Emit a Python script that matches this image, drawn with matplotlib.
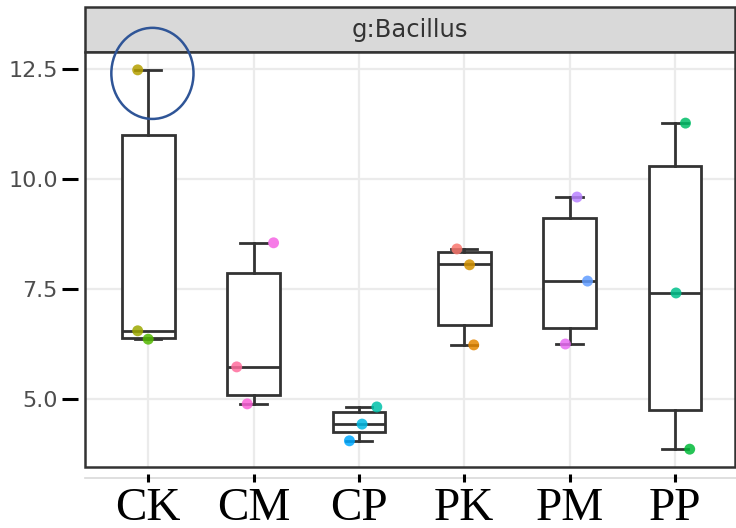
import matplotlib
matplotlib.use("Agg")
import matplotlib.pyplot as plt
from matplotlib.patches import Rectangle, Ellipse
from matplotlib.lines import Line2D

groups = ["CK", "CM", "CP", "PK", "PM", "PP"]

# box summaries per group
q1 = [6.39, 5.09, 4.25, 6.68, 6.61, 4.75]
median = [6.55, 5.73, 4.43, 8.07, 7.68, 7.41]
q3 = [11.00, 7.86, 4.70, 8.34, 9.11, 10.30]
whisker_low = [6.36, 4.89, 4.05, 6.23, 6.25, 3.86]
whisker_high = [12.48, 8.55, 4.82, 8.41, 9.59, 11.27]

# individual samples
ck_vals = [12.48, 6.55, 6.36]
cm_vals = [8.55, 5.73, 4.89]
cp_vals = [4.82, 4.43, 4.05]
pk_vals = [8.41, 8.05, 6.23]
pm_vals = [9.59, 7.68, 6.25]
pp_vals = [11.27, 7.41, 3.86]
samples = [ck_vals, cm_vals, cp_vals, pk_vals, pm_vals, pp_vals]

jitter = [[-0.10, -0.10, 0.00],
          [0.19, -0.16, -0.06],
          [0.17, 0.03, -0.09],
          [-0.07, 0.05, 0.09],
          [0.07, 0.17, -0.04],
          [0.10, 0.01, 0.14]]

sample_colors = [["#B5A000", "#9CA800", "#53B800"],
                 ["#F564E3", "#FF6C9C", "#FB61D7"],
                 ["#00C1AA", "#00B9E3", "#00A9FF"],
                 ["#F8766D", "#D39200", "#E58700"],
                 ["#B983FF", "#619CFF", "#E76BF3"],
                 ["#00BE67", "#00C08B", "#00BA38"]]

W, H = 736, 528
fig = plt.figure(figsize=(W / 100, H / 100), dpi=100)

left, right, top, bottom = 85, 735, 52, 467
ax = fig.add_axes([left / W, 1 - bottom / H, (right - left) / W, (bottom - top) / H])

ax.set_xlim(-0.6, 5.57)
ax.set_ylim(3.455, 12.886)

# grid
for x in range(len(groups)):
    ax.axvline(x, color="#ebebeb", lw=1.6, zorder=0)
for y in [5.0, 7.5, 10.0, 12.5]:
    ax.axhline(y, color="#ebebeb", lw=1.6, zorder=0)

stats = []
for i, g in enumerate(groups):
    stats.append(dict(label=g, med=median[i], q1=q1[i], q3=q3[i],
                      whislo=whisker_low[i], whishi=whisker_high[i], fliers=[]))

line_kw = dict(color="#333333", lw=2.0)
ax.bxp(stats, positions=range(len(groups)), widths=0.5, capwidths=0.25,
       showfliers=False, patch_artist=True,
       boxprops=dict(facecolor="white", edgecolor="#333333", lw=2.0),
       medianprops=line_kw, whiskerprops=line_kw, capprops=line_kw,
       zorder=2)

for i, vals in enumerate(samples):
    xs = [i + d for d in jitter[i]]
    ax.scatter(xs, vals, s=62, c=sample_colors[i], alpha=0.85,
               edgecolors="none", zorder=3)

# highlight around the CK maximum
ax.add_patch(Ellipse((0.04, 12.40), 0.78, 2.07, fill=False,
                     edgecolor="#2F5597", lw=1.8, clip_on=False, zorder=7))

for s in ax.spines.values():
    s.set_visible(False)
ax.spines["left"].set_position(("outward", 5))
ax.spines["bottom"].set_position(("outward", 5))

ax.set_xticks(range(len(groups)))
ax.set_xticklabels(groups, fontfamily="Liberation Serif", fontsize=34, color="black")
ax.set_yticks([5.0, 7.5, 10.0, 12.5])
ax.set_yticklabels(["5.0", "7.5", "10.0", "12.5"], fontfamily="DejaVu Sans",
                   fontsize=16, color="#4d4d4d")
ax.tick_params(axis="y", length=11.5, width=2.2, color="black", pad=3)
ax.tick_params(axis="x", length=5.8, width=2.2, color="black", pad=3.6)

# panel border
ax.add_patch(Rectangle((0, 0), 1, 1, transform=ax.transAxes, fill=False,
                       edgecolor="#333333", lw=1.8, clip_on=False, zorder=6))

# faint x axis line
fig.add_artist(Line2D([left / W, 1], [1 - 478 / H, 1 - 478 / H],
                      color="#d9d9d9", lw=1.2, zorder=-1))

# facet strip, kept beneath the axes so the highlight ring sits on top
strip_top = 7
fig.add_artist(Rectangle((left / W, 1 - top / H), (right - left) / W,
                         (top - strip_top) / H, facecolor="#d9d9d9",
                         edgecolor="#333333", lw=1.8, zorder=-2))
fig.text((left + right) / 2 / W, 1 - (top + strip_top) / 2 / H, "g:Bacillus",
         ha="center", va="center", fontsize=17.5, color="#333333",
         fontfamily="DejaVu Sans", zorder=-1)

fig.savefig("out.png", dpi=100)
